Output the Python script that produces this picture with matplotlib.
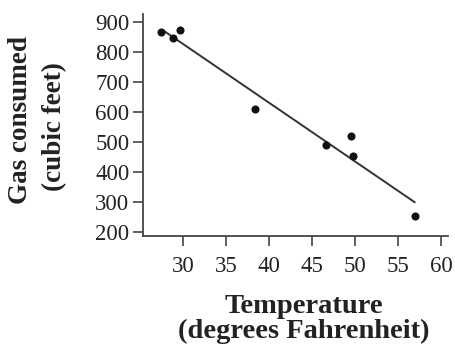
import matplotlib
matplotlib.use("Agg")
import matplotlib.pyplot as plt

# Monthly temperature vs. household gas use
temperature = [27.5, 28.8, 29.7, 38.4, 46.6, 49.5, 49.7, 57.0]
gas_used = [866, 846, 874, 610, 489, 520, 453, 252]

# end points of the fitted least-squares line
fit_temp = [27.75, 56.9]
fit_gas = [872, 299]

x_ticks = [30, 35, 40, 45, 50, 55, 60]
y_ticks = [200, 300, 400, 500, 600, 700, 800, 900]

plt.rcParams["font.family"] = ["Liberation Serif", "DejaVu Serif"]
ink = "#222222"

fig = plt.figure(figsize=(4.55, 3.48), dpi=100)
ax = fig.add_axes([0.315, 0.322, 0.67, 0.638])

ax.plot(fit_temp, fit_gas, color="#333333", lw=1.4, zorder=2)
ax.scatter(temperature, gas_used, s=34, color="#111111", zorder=3, linewidths=0)

ax.set_xlim(25.4, 60.8)
ax.set_ylim(186, 928)
ax.set_xticks(x_ticks)
ax.set_yticks(y_ticks)

for side in ("top", "right"):
    ax.spines[side].set_visible(False)
for side in ("left", "bottom"):
    ax.spines[side].set_linewidth(1.3)
    ax.spines[side].set_color("#444444")

ax.tick_params(axis="x", length=7.5, width=1.2, color="#444444", pad=7,
               labelsize=16.5, labelcolor=ink)
ax.tick_params(axis="y", length=7, width=1.2, color="#444444", pad=3,
               labelsize=16.5, labelcolor=ink)

fig.text(0.667, 0.012, "Temperature\n(degrees Fahrenheit)", ha="center", va="bottom",
         fontsize=20.5, fontweight="bold", color=ink, linespacing=0.98)

# two-line y label, each line placed separately
fig.text(0.044, 0.655, "Gas consumed", ha="center", va="center",
         rotation=90, fontsize=19.5, fontweight="bold", color=ink)
fig.text(0.121, 0.635, "(cubic feet)", ha="center", va="center",
         rotation=90, fontsize=19.5, fontweight="bold", color=ink)

fig.savefig("out.png", dpi=100)
